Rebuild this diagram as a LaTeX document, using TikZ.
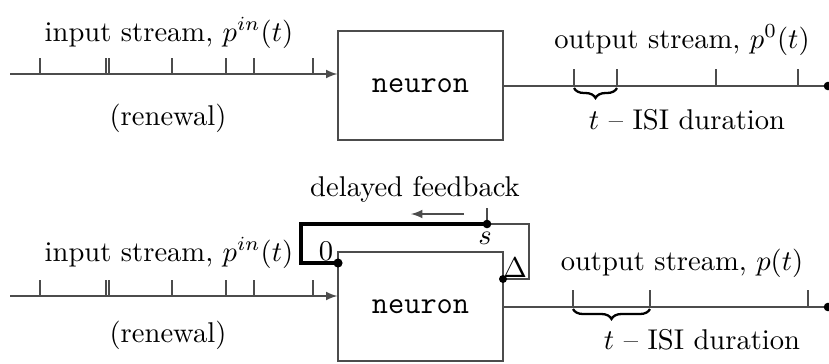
\documentclass[tikz,border=0pt]{standalone}
\usetikzlibrary{decorations.pathreplacing}

\tikzset{
  neuronbox/.style={draw=black!70, minimum width=57.75pt, minimum height=38.15pt,
    inner sep=0pt, font=\fontsize{11}{13}\selectfont\ttfamily},
  wire/.style={draw=black!70},
  isi/.style={decorate, decoration={brace, mirror, amplitude=3.5pt}, line width=0.8pt},
  feedback/.style={line width=1.1pt},
}

\begin{document}
\begin{tikzpicture}[x=0.35pt, y=-0.35pt, >=latex]
\useasboundingbox (0,0) rectangle (829,363);

% top: renewal input, no feedback
\node[neuronbox] (n1) at (420.5,85.5) {neuron};
\coordinate (in1) at (10,74);
\coordinate (out1) at (828,86);
\draw[wire,->] (in1) -- (in1 -| n1.west);
\draw[wire] (out1 -| n1.east) -- (out1);
\fill (out1) circle (1.5pt);
\foreach \x in {40,106,109,172,226,254,313}
  \draw[wire] (\x,74) -- ++(0,-16);
\foreach \x in {574,617,716,798}
  \draw[wire] (\x,86) -- ++(0,-17);
\draw[isi] (574,88) -- (617,88);

\node (lin1) at (169,33) {input stream, $p^{in}(t)$};
\node (lren1) at (168,118) {(renewal)};
\node (lout1) at (682,40) {output stream, $p^0(t)$};
\node (lisi1) at (687,120) {$t$ -- ISI duration};

% bottom: same with delayed feedback
\node[neuronbox] (n2) at (420.5,306.5) {neuron};
\coordinate (in2) at (10,296);
\coordinate (out2) at (828,307);
\draw[wire,->] (in2) -- (in2 -| n2.west);
\draw[wire] (out2 -| n2.east) -- (out2);
\fill (out2) circle (1.5pt);
\foreach \x in {40,106,109,172,226,254,313}
  \draw[wire] (\x,296) -- ++(0,-16);
\foreach \x in {573,650,808}
  \draw[wire] (\x,307) -- ++(0,-17);
\draw[isi] (573,309) -- (650,309);

\coordinate (s) at (487,224);
\coordinate (z) at (338,263);
\coordinate (d) at (503,279);
\draw[feedback] (s) -- (301,224) |- (z);
\draw[wire] (s) -- (529,224) |- (d);
\draw[wire] (s) -- ++(0,-16);
\fill (s) circle (1.5pt) (z) circle (1.6pt) (d) circle (1.4pt);
\draw[wire,->] (464,214) -- (411,214);

\node (ls) at (485,238) {$s$};
\node (l0) at (326,251) {$0$};
\node (ld) at (515,268) {$\Delta$};
\node (lfb) at (415,189) {delayed feedback};
\node (lin2) at (169,253) {input stream, $p^{in}(t)$};
\node (lren2) at (168,335) {(renewal)};
\node (lout2) at (682,263) {output stream, $p(t)$};
\node (lisi2) at (702,340) {$t$ -- ISI duration};
\end{tikzpicture}
\end{document}
